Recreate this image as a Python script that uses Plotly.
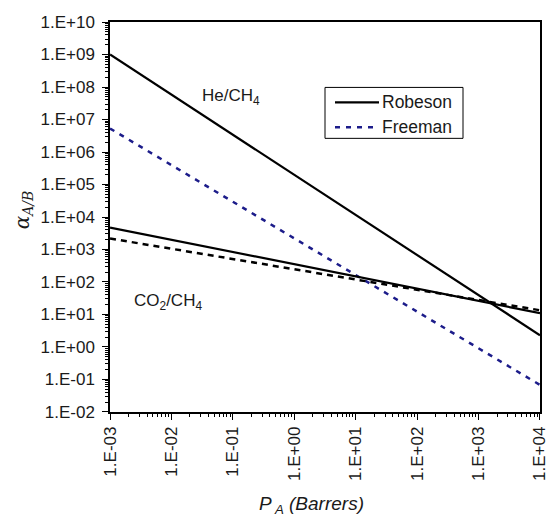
import plotly.graph_objects as go

# Upper-bound lines (straight on log-log axes): values at the two ends of the P_A range
p_ends = [1e-3, 1e4]
robeson_he = [1.0e9, 2.3]
freeman_he = [5.3e6, 0.068]
robeson_co2 = [4750, 11.0]
freeman_co2 = [2180, 13.5]

x_decades = list(range(-3, 5))
y_decades = list(range(-2, 11))
legend_names = ["Robeson", "Freeman"]


def sci_label(d):
    return "1.E{}{:02d}".format("+" if d >= 0 else "-", abs(d))


x_ticktext = [sci_label(d) for d in x_decades]
y_ticktext = [sci_label(d) for d in y_decades]

FONT = "Liberation Sans, Arial, sans-serif"
NAVY = "#1c1c8a"
TXT = "#1a1a1a"

# plot-area geometry in pixels, used to place paper-referenced items
L, R, T, B = 110, 540, 21.5, 412
W_PLOT, H_PLOT = R - L, B - T


def px(x):
    return (x - L) / W_PLOT


def py(y):
    return (B - y) / H_PLOT


fig = go.Figure()
fig.add_trace(go.Scatter(x=p_ends, y=robeson_he, mode="lines", showlegend=False,
                         line=dict(color="black", width=2.2)))
fig.add_trace(go.Scatter(x=p_ends, y=freeman_he, mode="lines", showlegend=False,
                         line=dict(color=NAVY, width=2.5, dash="5px,6px")))
fig.add_trace(go.Scatter(x=p_ends, y=robeson_co2, mode="lines", showlegend=False,
                         line=dict(color="black", width=2.2)))
fig.add_trace(go.Scatter(x=p_ends, y=freeman_co2, mode="lines", showlegend=False,
                         line=dict(color="black", width=2.5, dash="6px,5px")))


def minor_vals(lo, hi):
    return [k * 10.0 ** d for d in range(lo, hi) for k in range(2, 10)]


axis_common = dict(
    showline=True, linecolor="black", linewidth=1.5, mirror=True,
    showgrid=False, zeroline=False, ticks="outside", ticklen=6,
    tickcolor="black", tickwidth=1, ticklabeloverflow="allow", automargin=False,
    tickfont=dict(family=FONT, size=17, color=TXT),
)

fig.update_xaxes(
    type="log", range=[-3.0005, 4.0005], tickmode="array",
    tickvals=[10.0 ** d for d in x_decades], ticktext=x_ticktext,
    tickangle=-90,
    minor=dict(tickvals=minor_vals(-3, 4), ticks="outside", ticklen=3,
               tickcolor="black", showgrid=False),
    **axis_common,
)
fig.update_yaxes(
    type="log", range=[-2.0005, 10.0005], tickmode="array",
    tickvals=[10.0 ** d for d in y_decades], ticktext=y_ticktext,
    ticklabelstandoff=4,
    minor=dict(tickvals=minor_vals(-2, 10), ticks="outside", ticklen=3,
               tickcolor="black", showgrid=False),
    **axis_common,
)

fig.add_annotation(x=-1.535, y=7.68, xref="x", yref="y", text="He/CH<sub>4</sub>",
                   showarrow=False, xanchor="left", yanchor="middle",
                   font=dict(family=FONT, size=17, color=TXT))
fig.add_annotation(x=-2.647, y=1.38, xref="x", yref="y", text="CO<sub>2</sub>/CH<sub>4</sub>",
                   showarrow=False, xanchor="left", yanchor="middle",
                   font=dict(family=FONT, size=17, color=TXT))

# Axis titles
fig.add_annotation(x=px(311), y=py(505), xref="paper", yref="paper",
                   text="<i>P<sub> A</sub> (Barrers)</i>", showarrow=False,
                   xanchor="center", yanchor="middle",
                   font=dict(family=FONT, size=19, color=TXT))
fig.add_annotation(x=px(23), y=py(210), xref="paper", yref="paper",
                   text="<i>α<sub>A/B</sub></i>", textangle=-90, showarrow=False,
                   xanchor="center", yanchor="middle",
                   font=dict(family="DejaVu Serif, serif", size=20, color=TXT))

# Legend box with line samples
fig.add_shape(type="rect", xref="paper", yref="paper",
              x0=px(325), x1=px(463), y0=py(138), y1=py(87),
              line=dict(color="black", width=1), fillcolor="white", layer="above")
legend_styles = [dict(color="black", width=2.2), dict(color=NAVY, width=2.5, dash="5px,6px")]
for i, (name, style) in enumerate(zip(legend_names, legend_styles)):
    yy = 102 + 25 * i
    fig.add_shape(type="line", xref="paper", yref="paper",
                  x0=px(335), x1=px(379), y0=py(yy), y1=py(yy), line=style, layer="above")
    fig.add_annotation(x=px(380), y=py(yy), xref="paper", yref="paper", text=name,
                       showarrow=False, xanchor="left", yanchor="middle",
                       font=dict(family=FONT, size=17.5, color=TXT))

fig.update_layout(
    width=547, height=519,
    margin=dict(l=L, r=547 - R, t=T, b=519 - B, autoexpand=False),
    paper_bgcolor="white", plot_bgcolor="white",
    showlegend=False,
)

fig.write_html("out.html")
